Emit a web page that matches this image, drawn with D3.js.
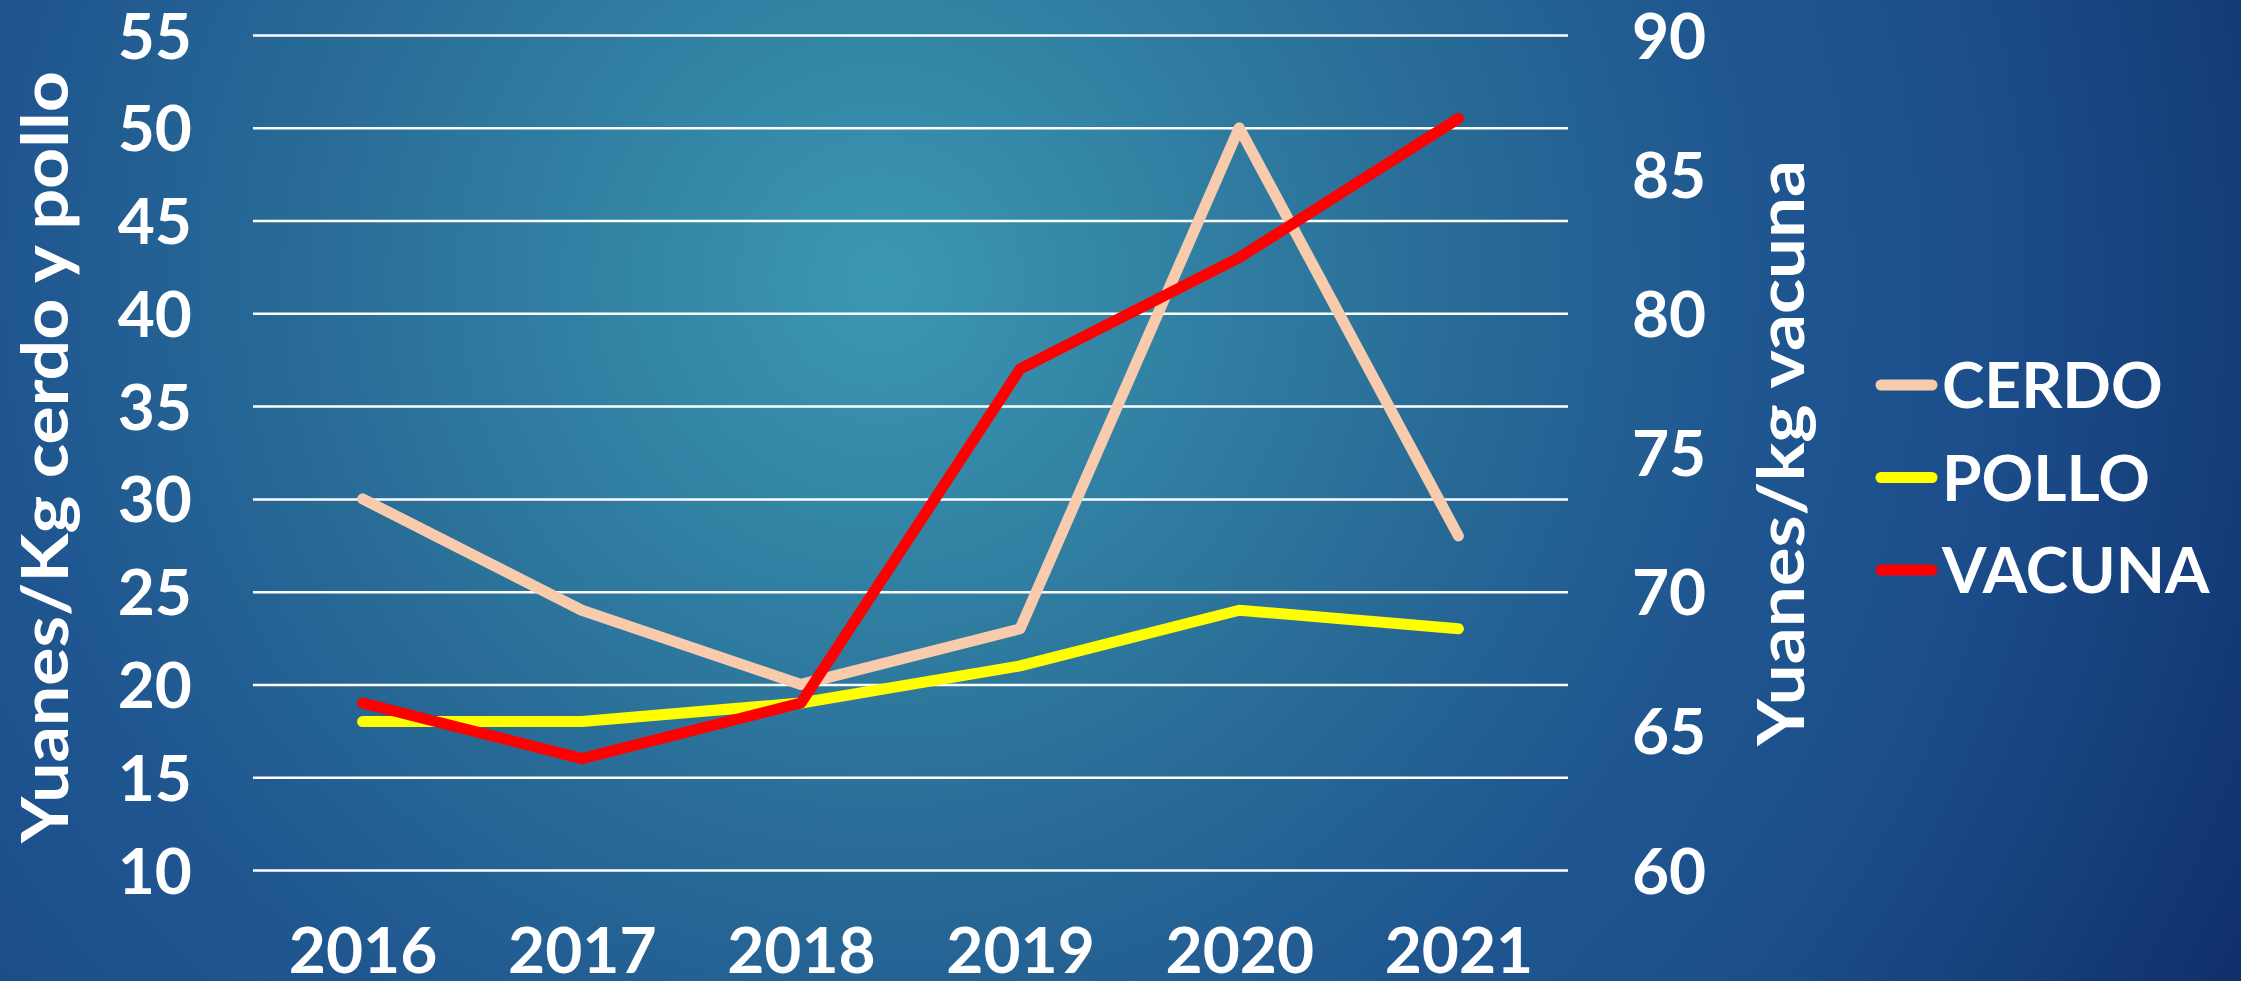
<html>
<head>
<script src="https://cdn.jsdelivr.net/npm/d3@7"></script>
<style>
  body { margin:0; overflow:hidden; }
  text { font-family: "Lato", "Open Sans", sans-serif; font-weight:700; fill:#fff; }
</style>
</head>
<body>
<script>
// data
let years = ["2016","2017","2018","2019","2020","2021"];
let cerdo = [30, 24, 20, 23, 50, 28];
let pollo = [18, 18, 19, 21, 24, 23];
let vacuna = [66, 64, 66, 78, 82, 87];
let leftTicks = [10,15,20,25,30,35,40,45,50,55];
let rightTicks = [60,65,70,75,80,85,90];
let seriesNames = ["CERDO","POLLO","VACUNA"];
let seriesColors = ["#F8CBAD","#FFFF00","#FF0000"];

let screen = {width:2241, height:981};
let plot = {left:253, right:1568, top:35, bottom:870};

let svg = d3.select("body").append("svg")
    .attr("width", screen.width)
    .attr("height", screen.height);

// background
let defs = svg.append("defs");
let grad = defs.append("radialGradient")
    .attr("id","bg")
    .attr("gradientUnits","userSpaceOnUse")
    .attr("cx",880).attr("cy",280).attr("r",1560);
[["0%","#3b98b1"],["38%","#286a96"],["56%","#1f5690"],["70%","#1c4f8c"],["86%","#153e7a"],["100%","#0f2d68"]]
    .forEach(function(s){ grad.append("stop").attr("offset",s[0]).attr("stop-color",s[1]); });
svg.append("rect").attr("width",screen.width).attr("height",screen.height).attr("fill","url(#bg)");

// scales
let xScale = d3.scalePoint().domain(years).range([plot.left, plot.right]).padding(0.5);
let yLeft = d3.scaleLinear().domain([10,55]).range([plot.bottom, plot.top]);
let yRight = d3.scaleLinear().domain([60,90]).range([plot.bottom, plot.top]);

// grid
let grid = svg.append("g").attr("transform","translate("+plot.left+",0)")
    .call(d3.axisLeft(yLeft).tickValues(leftTicks).tickSize(-(plot.right-plot.left)).tickFormat(""));
grid.select(".domain").remove();
grid.selectAll("line").attr("stroke","#fff").attr("stroke-width",2.5);

// axes
let yAxisL = svg.append("g").attr("transform","translate("+plot.left+",0)")
    .call(d3.axisLeft(yLeft).tickValues(leftTicks).tickSize(0).tickPadding(61));
let yAxisR = svg.append("g").attr("transform","translate("+plot.right+",0)")
    .call(d3.axisRight(yRight).tickValues(rightTicks).tickSize(0).tickPadding(64));
let xAxis = svg.append("g").attr("transform","translate(0,"+plot.bottom+")")
    .call(d3.axisBottom(xScale).tickSize(0).tickPadding(58));
[yAxisL, yAxisR, xAxis].forEach(function(a){
    a.select(".domain").remove();
    a.selectAll("text").attr("font-family",null).attr("font-size",null)
        .style("font-size","64px").attr("fill","#fff");
});
yAxisL.selectAll("text").attr("dy","0.36em");
yAxisR.selectAll("text").attr("dy","0.36em");

// axis titles
svg.append("text")
    .attr("transform","translate(43,457) rotate(-90)")
    .attr("text-anchor","middle").attr("dominant-baseline","central")
    .attr("textLength",772).attr("lengthAdjust","spacingAndGlyphs")
    .style("font-size","65px")
    .text("Yuanes/Kg cerdo y pollo");
svg.append("text")
    .attr("transform","translate(1779,453) rotate(-90)")
    .attr("text-anchor","middle").attr("dominant-baseline","central")
    .attr("textLength",586).attr("lengthAdjust","spacingAndGlyphs")
    .style("font-size","65px")
    .text("Yuanes/kg vacuna");

// lines
let lineL = d3.line().x(function(d,i){ return xScale(years[i]); }).y(function(d){ return yLeft(d); });
let lineR = d3.line().x(function(d,i){ return xScale(years[i]); }).y(function(d){ return yRight(d); });
let series = [
    {data:cerdo, line:lineL, color:seriesColors[0]},
    {data:pollo, line:lineL, color:seriesColors[1]},
    {data:vacuna, line:lineR, color:seriesColors[2]}
];
svg.selectAll("path.series")
    .data(series)
    .enter()
    .append("path")
    .attr("class","series")
    .attr("d", function(d){ return d.line(d.data); })
    .attr("fill","none")
    .attr("stroke", function(d){ return d.color; })
    .attr("stroke-width",11)
    .attr("stroke-linecap","round")
    .attr("stroke-linejoin","round");

// legend
let legend = svg.append("g");
let legY = d3.scalePoint().domain(seriesNames).range([385,570]);
legend.selectAll("line")
    .data(seriesNames)
    .enter()
    .append("line")
    .attr("x1",1881).attr("x2",1932)
    .attr("y1",function(d){ return legY(d); })
    .attr("y2",function(d){ return legY(d); })
    .attr("stroke",function(d,i){ return seriesColors[i]; })
    .attr("stroke-width",11)
    .attr("stroke-linecap","round");
legend.selectAll("text")
    .data(seriesNames)
    .enter()
    .append("text")
    .attr("x",1942)
    .attr("y",function(d){ return legY(d); })
    .attr("dy","0.36em")
    .style("font-size","64px")
    .text(function(d){ return d; });
</script>
</body>
</html>
